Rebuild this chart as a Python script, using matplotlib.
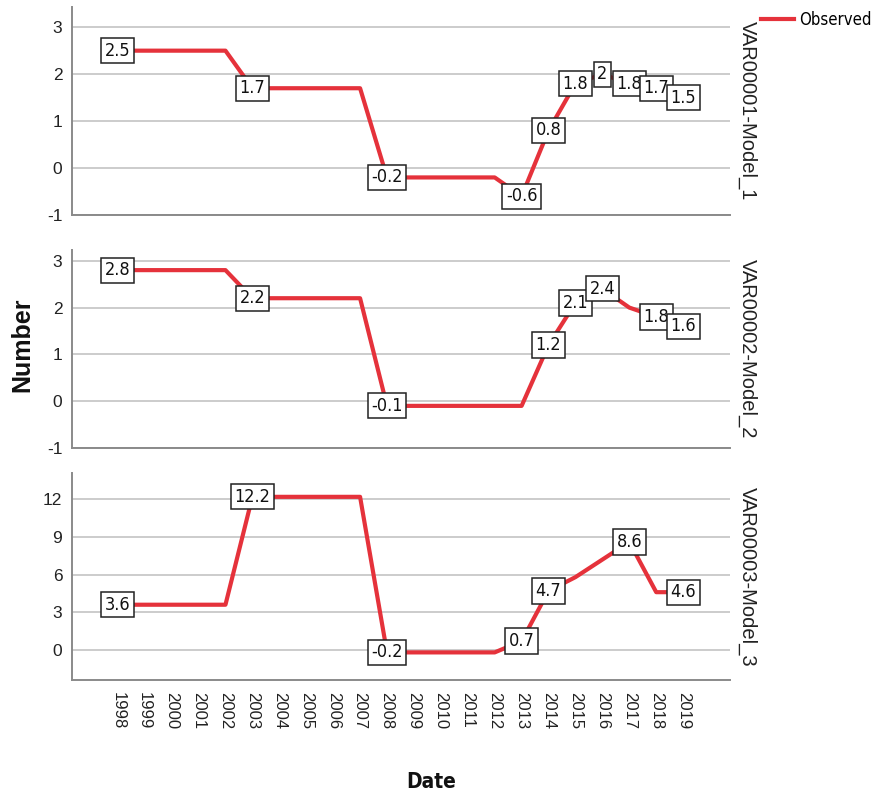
import matplotlib
matplotlib.use("Agg")
import matplotlib.pyplot as plt
from matplotlib import font_manager
from matplotlib.lines import Line2D

cond = [f for f in font_manager.fontManager.ttflist
        if f.name == "DejaVu Sans" and str(f.stretch) in ("condensed", "semi-condensed")]
HAS_COND = len(cond) > 0
REG = "Liberation Sans"
plt.rcParams["font.family"] = [REG, "DejaVu Sans"]

if HAS_COND:
    NARROW_KW = dict(family="DejaVu Sans", stretch="condensed")
else:
    NARROW_KW = dict(family=[REG, "DejaVu Sans"])

years = list(range(1998, 2020))
model_1 = [2.5, 2.5, 2.5, 2.5, 2.5, 1.7, 1.7, 1.7, 1.7, 1.7, -0.2, -0.2, -0.2, -0.2, -0.2,
           -0.6, 0.8, 1.8, 2.0, 1.8, 1.7, 1.5]
model_2 = [2.8, 2.8, 2.8, 2.8, 2.8, 2.2, 2.2, 2.2, 2.2, 2.2, -0.1, -0.1, -0.1, -0.1, -0.1, -0.1,
           1.2, 2.1, 2.4, 2.0, 1.8, 1.6]
model_3 = [3.6, 3.6, 3.6, 3.6, 3.6, 12.2, 12.2, 12.2, 12.2, 12.2, -0.2, -0.2, -0.2, -0.2, -0.2,
           0.7, 4.7, 5.8, 7.2, 8.6, 4.6, 4.6]
labeled_1 = [1998, 2003, 2008, 2013, 2014, 2015, 2016, 2017, 2018, 2019]
labeled_2 = [1998, 2003, 2008, 2014, 2015, 2016, 2018, 2019]
labeled_3 = [1998, 2003, 2008, 2013, 2014, 2017, 2019]
panel_names = ["VAR00001-Model_1", "VAR00002-Model_2", "VAR00003-Model_3"]
yticks_1 = [-1, 0, 1, 2, 3]
yticks_3 = [0, 3, 6, 9, 12]

W, H = 872, 797
fig = plt.figure(figsize=(W / 100, H / 100), dpi=100)

def fx(px):
    return px / W

def fy(py):
    return 1 - py / H

LINE = "#E5323B"
panels = [
    (model_1, labeled_1, panel_names[0], 7, 215, (-1, 3.43), yticks_1),
    (model_2, labeled_2, panel_names[1], 250, 448, (-1, 3.23), yticks_1),
    (model_3, labeled_3, panel_names[2], 473, 680, (-2.4, 14.1), yticks_3),
]

lab_size = 13 if HAS_COND else 12.5
for i, (vals, lab, name, top, bot, ylim, yt) in enumerate(panels):
    ax = fig.add_axes([fx(72), fy(bot), fx(730) - fx(72), fy(top) - fy(bot)])
    ax.plot(years, vals, color=LINE, lw=3.0, solid_joinstyle="round", zorder=3, label="Observed")
    for y, v in zip(years, vals):
        if y in lab:
            ax.text(y, v, f"{v:g}", ha="center", va="center", fontsize=lab_size,
                    color="#111111", zorder=5,
                    bbox=dict(boxstyle="square,pad=0.2", fc="white", ec="#222222", lw=1.1),
                    **NARROW_KW)
    ax.set_xlim(1996.3, 2020.74)
    ax.set_ylim(*ylim)
    ax.set_yticks(yt)
    ax.set_yticklabels([str(t) for t in yt])
    ax.yaxis.grid(True, color="#c8c8c8", lw=1.3)
    ax.set_axisbelow(True)
    for s in ["top", "right"]:
        ax.spines[s].set_visible(False)
    for s in ["left", "bottom"]:
        ax.spines[s].set_color("#8a8a8a")
        ax.spines[s].set_linewidth(1.4)
    ax.tick_params(axis="both", length=0, labelsize=12.5, colors="#222222", pad=7)
    ax.set_xticks(years)
    if i < 2:
        ax.set_xticklabels([])
    else:
        ax.set_xticklabels([str(y) for y in years], rotation=270, fontsize=12)
        ax.tick_params(axis="x", pad=9)
    fig.text(fx(748), fy((top + bot) / 2), name, rotation=270, ha="center", va="center",
             fontsize=14.5, color="#222222")

fig.text(fx(22), fy(345), "Number", rotation=90, ha="center", va="center",
         fontsize=18, fontweight="bold", color="#111111")
fig.text(fx(431), fy(782), "Date", ha="center", va="center",
         fontsize=15, fontweight="bold", color="#111111", **NARROW_KW)

handle = Line2D([], [], color=LINE, lw=3.0)
prop = dict(size=12 if HAS_COND else 11.5)
prop.update(NARROW_KW)
fig.legend(handles=[handle], labels=["Observed"], loc="upper left",
           bbox_to_anchor=(fx(761), fy(11)), frameon=False, handlelength=2.0,
           handletextpad=0.3, borderaxespad=0, borderpad=0.0, prop=prop)

fig.savefig("out.png", dpi=100)
